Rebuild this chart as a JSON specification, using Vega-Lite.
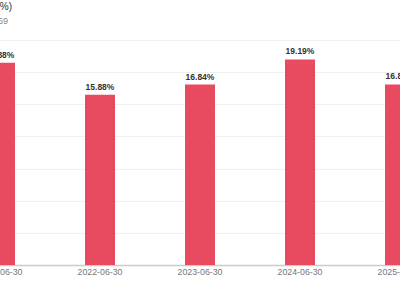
{
  "$schema": "https://vega.github.io/schema/vega-lite/v6.json",
  "width": 400,
  "height": 225,
  "autosize": {"type": "none"},
  "padding": {"top": 40, "left": 0, "right": 0, "bottom": 35},
  "background": "white",
  "title": {
    "text": "ROE (%)",
    "subtitle": "S600059",
    "anchor": "start",
    "frame": "group",
    "dx": -28,
    "offset": 14,
    "font": "Liberation Sans",
    "fontSize": 10,
    "fontWeight": "normal",
    "color": "#333333",
    "subtitleFont": "Liberation Sans",
    "subtitleFontSize": 9,
    "subtitleColor": "#888888",
    "subtitlePadding": 5
  },
  "data": {
    "values": [
      {"date": "2021-06-30", "roe": 0.1888},
      {"date": "2022-06-30", "roe": 0.1588},
      {"date": "2023-06-30", "roe": 0.1684},
      {"date": "2024-06-30", "roe": 0.1919},
      {"date": "2025-06-30", "roe": 0.1685}
    ]
  },
  "config": {"view": {"stroke": null}},
  "encoding": {
    "x": {
      "field": "date",
      "type": "nominal",
      "sort": null,
      "scale": {"paddingInner": 0.7, "paddingOuter": 0, "range": [-15, 415]},
      "axis": {
        "title": null,
        "labelAngle": 0,
        "labelFont": "Liberation Sans",
        "labelFontSize": 8.8,
        "labelColor": "#777777",
        "labelPadding": 2,
        "ticks": false,
        "domainColor": "#cccccc",
        "domainWidth": 1.5,
        "grid": false
      }
    },
    "y": {
      "field": "roe",
      "type": "quantitative",
      "scale": {"domain": [0, 0.21]},
      "axis": {
        "title": null,
        "values": [0, 0.03, 0.06, 0.09, 0.12, 0.15, 0.18, 0.21],
        "labels": false,
        "ticks": false,
        "domain": false,
        "grid": true,
        "gridColor": "#efefef",
        "gridWidth": 1
      }
    }
  },
  "layer": [
    {"mark": {"type": "bar", "color": "#e84b5f"}},
    {
      "mark": {
        "type": "text",
        "baseline": "bottom",
        "dy": -3,
        "font": "Liberation Sans",
        "fontSize": 8.5,
        "fontWeight": "bold",
        "color": "#333333"
      },
      "encoding": {"text": {"field": "roe", "type": "quantitative", "format": ".2%"}}
    }
  ]
}
